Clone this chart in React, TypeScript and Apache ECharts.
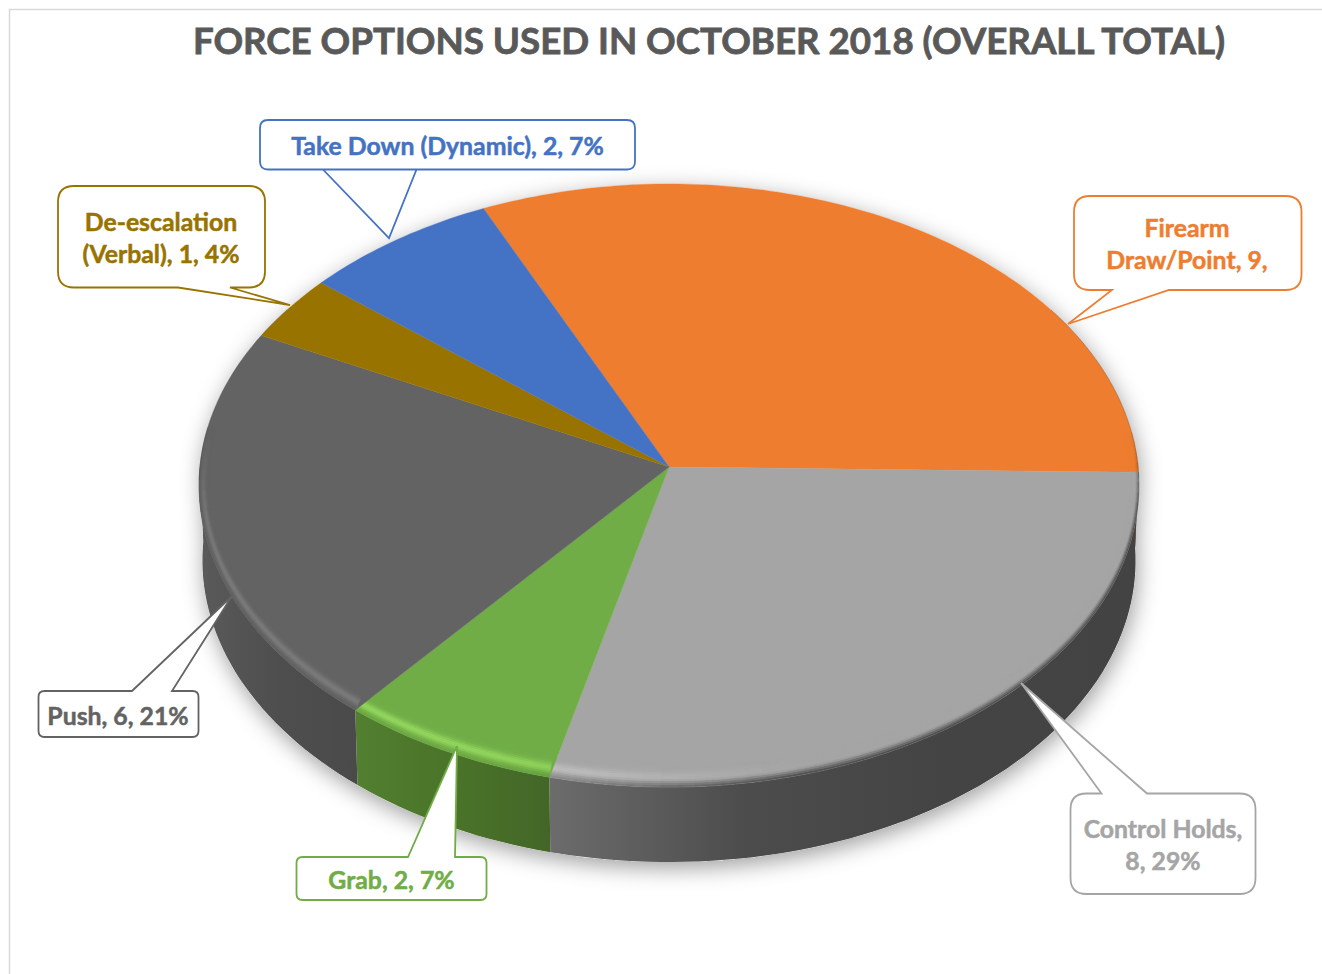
import React, { useEffect, useRef } from "react";
import * as echarts from "echarts";

// ---- data ----
const categories = ["Firearm Draw/Point", "Control Holds", "Grab", "Push", "De-escalation (Verbal)", "Take Down (Dynamic)"];
const counts = [9, 8, 2, 6, 1, 2];
const chartTitle = "FORCE OPTIONS USED IN OCTOBER 2018 (OVERALL TOTAL)";
const firstSliceAngle = -24.7;

// ---- styling ----
const sliceColors = ["#ee7d30", "#a5a5a5", "#70ad47", "#636363", "#997300", "#4472c4"];
const rimLights = ["#f29a5c", "#c2c2c2", "#93d65e", "#7c7c7c", "#b58c1a", "#6a90d6"];
const wallStops: string[][] = [
  ["#8a4a1c", "#8a4a1c"],
  ["#6c6c6c", "#4c4c4c", "#444444", "#434343"],
  ["#527f30", "#4a7429", "#436628"],
  ["#5a5a5a", "#4e4e4e", "#4a4a4a"],
  ["#5c4500", "#5c4500"],
  ["#2a4477", "#2a4477"],
];
const labelLines = [
  ["Firearm", "Draw/Point, 9,"],
  ["Control Holds,", "8, 29%"],
  ["Grab, 2, 7%"],
  ["Push, 6, 21%"],
  ["De-escalation", "(Verbal), 1, 4%"],
  ["Take Down (Dynamic), 2, 7%"],
];
// callout boxes: x, y, w, h, radius, pointer side, pointer a, tip x, tip y, pointer b, text centre x, first line y
const calloutLayout: any[] = [
  [1074, 196, 227.5, 94, 16, "bottom", 1169, 1068, 324, 1112, 1187, 227],
  [1070.5, 793.5, 185, 100.5, 16, "top", 1101.5, 1021, 683, 1147, 1163, 828],
  [296.5, 857, 190, 43, 6, "top", 408, 457, 746, 455, 391.5, 879],
  [38.5, 691, 160, 46, 6, "top", 132, 232, 596, 172, 118, 715],
  [58, 186, 207, 101.5, 16, "bottom", 230, 290, 305, 178, 161, 221],
  [260, 120, 375, 49.5, 8, "bottom", 323, 389, 238, 416.5, 447.5, 145],
];

// ---- projection of the tilted disc ----
const CX = 669, CY = 467, A = 469, B = 300.4, K = 0.0614, DEPTH = 75;
const rad = (d: number) => (d * Math.PI) / 180;
const project = (deg: number, shrinkX = 1, shrinkY = 1) => {
  const u = Math.sin(rad(deg)) * shrinkX;
  const v = -Math.cos(rad(deg)) * shrinkY;
  const w = 1 / (1 - K * v);
  return [CX + A * u * w, CY + B * v * w];
};
const wallPoint = (deg: number) => {
  const p = project(deg);
  return [CX + (p[0] - CX) * 0.993, p[1] + DEPTH];
};
const clamp = (x: number) => Math.max(0, Math.min(1, x));
const smooth = (a: number, b: number, x: number) => {
  const t = clamp((x - a) / (b - a));
  return t * t * (3 - 2 * t);
};
const rgb = (h: string) => [1, 3, 5].map((i) => parseInt(h.slice(i, i + 2), 16));
const mix = (a: string, b: string, t: number) => {
  const x = rgb(a), y = rgb(b);
  return "#" + x.map((c, i) => Math.round(c + (y[i] - c) * t).toString(16).padStart(2, "0")).join("");
};

const total = counts.reduce((s, c) => s + c, 0);

function renderSlice(params: any, api: any) {
  const i = params.dataIndex;
  const value = api.value(0) as number;
  let before = 0;
  for (let k = 0; k < i; k++) before += counts[k];
  const start = firstSliceAngle + (before / total) * 360;
  const end = start + (value / total) * 360;
  const base = sliceColors[i];
  const children: any[] = [];

  // side wall (only the part facing the viewer)
  const ws = Math.max(start, 90), we = Math.min(end, 270);
  if (we > ws) {
    const top: number[][] = [], bottom: number[][] = [];
    for (let a = ws; a < we; a += 1.5) {
      top.push(project(a));
      bottom.push(wallPoint(a));
    }
    top.push(project(we));
    bottom.push(wallPoint(we));
    const stops = wallStops[i];
    children.push({
      type: "polygon",
      shape: { points: top.concat(bottom.reverse()) },
      style: {
        fill: new echarts.graphic.LinearGradient(0, 0, 1, 0, stops.map((c, n) => ({ offset: n / (stops.length - 1), color: c }))),
      },
      silent: true,
    });
  }

  // top face
  const pts: number[][] = [[CX, CY]];
  for (let a = start; a < end; a += 1) pts.push(project(a));
  pts.push(project(end));
  children.push({ type: "polygon", shape: { points: pts }, style: { fill: base, stroke: base, lineWidth: 0.4 }, silent: true });

  // bevel
  const strips = 10;
  const edge = wallStops[i][Math.floor(wallStops[i].length / 2)];
  const step = 2;
  for (let a = start; a < end - 1e-6; a += step) {
    const b = Math.min(a + step, end);
    const mid = (a + b) / 2;
    const norm = ((mid % 360) + 360) % 360;
    const v = -Math.cos(rad(mid));
    const facing = smooth(-0.15, 0.2, v);
    if (facing <= 0.01) continue;
    const h = smooth(160, 205, norm) * (1 - 0.6 * smooth(240, 300, norm));
    for (let s = 0; s < strips; s++) {
      const t0 = s / strips, t1 = (s + 1) / strips, t = (t0 + t1) / 2;
      const bump = Math.exp(-Math.pow((t - 0.5) / 0.25, 2));
      let color = mix(base, rimLights[i], bump * h * facing);
      const d = clamp(1 - t / 0.38) * facing * (1 - 0.85 * smooth(160, 205, norm));
      color = mix(color, edge, d);
      const sx0 = 1 - 0.02 * t0, sy0 = 1 - 0.06 * t0, sx1 = 1 - 0.02 * t1, sy1 = 1 - 0.06 * t1;
      children.push({
        type: "polygon",
        shape: { points: [project(a, sx0, sy0), project(b, sx0, sy0), project(b, sx1, sy1), project(a, sx1, sy1)] },
        style: { fill: color, stroke: color, lineWidth: 0.5 },
        silent: true,
      });
    }
  }

  // thin dim outline on the right part of the far edge
  const outline: number[][] = [];
  for (let a = start; a < end; a += 1) {
    const v = -Math.cos(rad(a));
    if (v < 0.05 && v > -0.55) outline.push(project(a));
  }
  if (outline.length > 1) {
    children.push({
      type: "polyline",
      shape: { points: outline },
      style: { fill: "none", stroke: "rgba(70,60,50,0.3)", lineWidth: 1 },
      silent: true,
    });
  }
  return { type: "group", children };
}

function renderShadow() {
  const pts: number[][] = [];
  for (let a = 90; a <= 270; a += 2) pts.push(wallPoint(a));
  for (let a = 270; a <= 450; a += 2) pts.push(project(a));
  return {
    type: "polygon",
    shape: { points: pts },
    style: { fill: "#ffffff", shadowBlur: 22, shadowColor: "rgba(0,0,0,0.38)", shadowOffsetY: 6, shadowOffsetX: 2 },
    silent: true,
  };
}

function calloutPath(c: any[]) {
  const [x, y, w, h, r, side, pa, tx, ty, pb] = c;
  const x2 = x + w, y2 = y + h;
  const topSeg = side === "top" ? `L${pa} ${y}L${tx} ${ty}L${pb} ${y}` : "";
  const botSeg = side === "bottom" ? `L${pa} ${y2}L${tx} ${ty}L${pb} ${y2}` : "";
  return (
    `M${x + r} ${y}${topSeg}L${x2 - r} ${y}Q${x2} ${y} ${x2} ${y + r}L${x2} ${y2 - r}Q${x2} ${y2} ${x2 - r} ${y2}` +
    `${botSeg}L${x + r} ${y2}Q${x} ${y2} ${x} ${y2 - r}L${x} ${y + r}Q${x} ${y} ${x + r} ${y}Z`
  );
}

calloutLayout.forEach((c, i) => {
  echarts.graphic.registerShape("callout" + i, echarts.graphic.extendPath(calloutPath(c), {}) as any);
});

export default function App() {
  const ref = useRef<HTMLDivElement>(null);
  useEffect(() => {
    document.body.style.margin = "0";
    document.body.style.overflow = "hidden";
    const chart = echarts.init(ref.current!, undefined, { renderer: "svg" });
    const graphics: any[] = [
      {
        type: "rect",
        shape: { x: 9.5, y: 9.5, width: 1500, height: 1200 },
        style: { fill: "none", stroke: "#d9d9d9", lineWidth: 1.5 },
        z: 0,
        silent: true,
      },
    ];
    calloutLayout.forEach((c, i) => {
      graphics.push({
        type: "callout" + i,
        x: 0,
        y: 0,
        style: { fill: "#ffffff", stroke: sliceColors[i], lineWidth: 1.8 },
        z: 20,
        silent: true,
      });
      labelLines[i].forEach((line, n) => {
        graphics.push({
          type: "text",
          x: c[10],
          y: c[11] + n * 32.5,
          style: {
            text: line,
            fill: sliceColors[i],
            stroke: sliceColors[i],
            lineWidth: 0.5,
            font: 'bold 24.8px Lato, "Open Sans", sans-serif',
            align: "center",
            verticalAlign: "middle",
          },
          z: 21,
          silent: true,
        });
      });
    });
    chart.setOption({
      animation: false,
      backgroundColor: "#ffffff",
      title: {
        text: chartTitle,
        left: 704,
        top: 16,
        textAlign: "center",
        textStyle: {
          fontFamily: 'Lato, "Open Sans", sans-serif',
          fontWeight: "bold",
          fontSize: 36.7,
          color: "#595959",
          textBorderColor: "#595959",
          textBorderWidth: 0.8,
        },
      },
      tooltip: { show: false },
      graphic: graphics,
      series: [
        { type: "custom", coordinateSystem: "none", z: 1, silent: true, renderItem: renderShadow, data: [[total]] },
        {
          type: "custom",
          coordinateSystem: "none",
          z: 2,
          silent: true,
          renderItem: renderSlice,
          data: categories.map((name, i) => ({ name, value: [counts[i]] })),
        },
      ],
    });
    return () => chart.dispose();
  }, []);
  return <div ref={ref} style={{ position: "absolute", left: 0, top: 0, width: 1322, height: 974 }} />;
}
